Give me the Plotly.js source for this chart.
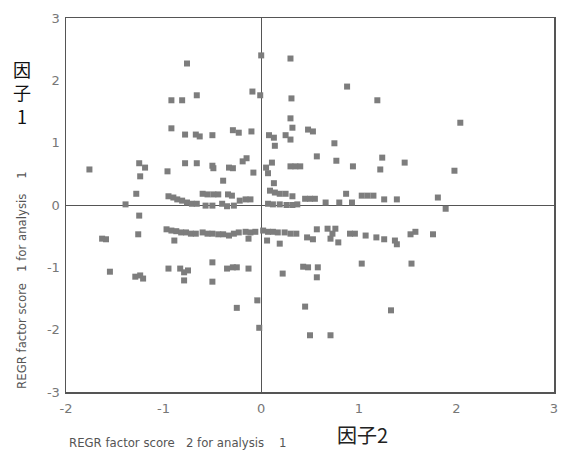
<!DOCTYPE html>
<html>
<head>
<meta charset="utf-8">
<script src="https://cdn.plot.ly/plotly-3.0.1.min.js"></script>
<style>html,body{margin:0;padding:0;background:#fff;}</style>
</head>
<body>
<div id="chart" style="width:561px;height:452px;"></div>
<script>
// REGR factor score 2 (x) and factor score 1 (y)
const factor2 = [
-0.76,-0.92,-0.81,-0.66,0.00,-0.09,-0.01,-0.92,-0.78,-0.67,-0.63,-0.50,-0.29,-0.23,-0.10,0.08,0.13,0.14,
0.30,0.88,0.31,1.19,2.04,0.30,0.32,0.25,0.30,0.48,0.53,0.75,0.57,0.77,0.94,1.24,1.22,1.47,1.98,
0.30,0.35,0.40,0.11,0.05,0.07,0.13,
-1.76,-1.25,-1.19,-1.24,-0.96,-0.78,-0.66,-0.50,-0.49,-0.33,-0.29,-0.39,-0.19,-0.15,-0.08,-1.28,-1.39,-1.25,
-0.95,-0.90,-0.86,-0.81,-0.76,-0.71,-0.66,-0.60,-0.55,-0.49,-0.44,-0.40,-0.34,-0.30,-0.28,-0.22,-0.16,-0.11,-0.57,-0.50,-0.35,
0.09,0.14,0.19,0.25,0.32,0.45,0.50,0.55,0.66,0.80,0.87,0.93,1.03,1.09,1.15,1.26,1.39,1.81,1.89,0.07,0.12,0.19,0.26,0.32,0.37,
-0.97,-0.92,-0.87,-0.82,-0.77,-0.72,-0.67,-0.60,-0.55,-0.50,-0.44,-0.39,-0.33,-0.28,-0.23,-0.16,-0.11,-0.06,-0.89,-0.13,-1.26,-1.63,-1.59,
0.02,0.07,0.12,0.17,0.24,0.30,0.36,0.19,0.06,0.47,0.53,0.57,0.68,0.73,0.76,0.71,0.79,0.91,0.96,1.07,1.18,1.26,1.37,1.39,1.53,1.58,1.76,
-1.55,-1.29,-1.24,-1.21,-0.95,-0.83,-0.79,-0.75,-0.79,-0.50,-0.50,-0.35,-0.29,-0.25,-0.13,-0.25,-0.04,-0.02,
0.22,0.43,0.48,0.58,0.57,1.03,1.54,0.45,1.33,0.50,0.71
];
const factor1 = [
2.27,1.68,1.68,1.76,2.40,1.82,1.76,1.23,1.13,1.13,1.10,1.12,1.20,1.16,1.18,1.12,1.08,0.95,
2.35,1.90,1.71,1.68,1.32,1.39,1.24,1.12,1.05,1.21,1.18,0.99,0.78,0.71,0.62,0.76,0.57,0.68,0.55,
0.62,0.62,0.62,0.68,0.60,0.51,0.35,
0.57,0.67,0.60,0.46,0.54,0.67,0.67,0.63,0.59,0.60,0.59,0.39,0.70,0.75,0.52,0.18,0.01,-0.17,
0.14,0.12,0.09,0.07,0.04,0.02,0.02,0.18,0.17,0.17,0.17,0.02,0.17,0.15,-0.01,0.07,0.09,0.09,-0.01,-0.01,-0.02,
0.23,0.20,0.18,0.18,0.14,0.10,0.10,0.10,0.04,0.04,0.18,0.04,0.15,0.15,0.15,0.09,0.09,0.12,-0.06,0.02,0.01,0.01,0.00,0.00,0.01,
-0.39,-0.41,-0.42,-0.44,-0.44,-0.46,-0.46,-0.44,-0.46,-0.46,-0.47,-0.47,-0.49,-0.46,-0.44,-0.43,-0.44,-0.43,-0.57,-0.54,-0.47,-0.54,-0.55,
-0.41,-0.43,-0.43,-0.44,-0.44,-0.46,-0.46,-0.62,-0.57,-0.52,-0.55,-0.39,-0.38,-0.46,-0.38,-0.54,-0.60,-0.46,-0.46,-0.49,-0.52,-0.55,-0.57,-0.63,-0.47,-0.43,-0.47,
-1.07,-1.15,-1.13,-1.18,-1.02,-1.02,-1.08,-1.05,-1.21,-0.92,-1.23,-1.02,-1.00,-1.00,-1.02,-1.65,-1.53,-1.97,
-1.10,-0.99,-1.00,-1.00,-1.16,-0.94,-0.94,-1.63,-1.69,-2.09,-2.09
];
const xTicks = [-2,-1,0,1,2,3];
const yTicks = [-3,-2,-1,0,1,2,3];
const xTitle = "REGR factor score   2 for analysis    1";
const yTitle = "REGR factor score   1 for analysis    1";
const xLabelJa = "因子2";
const yLabelJa = "因<br>子<br>1";

const trace = {
  x: factor2, y: factor1, type: 'scatter', mode: 'markers',
  marker: {symbol: 'square', size: 6, color: '#7d7d7d'},
  hoverinfo: 'skip'
};
const tickFont = {family: 'DejaVu Sans, sans-serif', size: 13, color: '#777'};
const titleFont = {family: 'Liberation Sans Narrow, DejaVu Sans Condensed, sans-serif', size: 13, color: '#555'};
const annotations = [
  {text: xTitle, xref: 'paper', yref: 'paper', x: 0.230, y: -0.136, xanchor: 'center', yanchor: 'middle', showarrow: false, font: titleFont},
  {text: yTitle, xref: 'paper', yref: 'paper', x: -0.090, y: 0.30, xanchor: 'center', yanchor: 'middle', textangle: -90, showarrow: false, font: titleFont},
  {text: xLabelJa, xref: 'paper', yref: 'paper', x: 0.607, y: -0.157, xanchor: 'center', yanchor: 'bottom', showarrow: false,
   font: {family: 'Noto Sans CJK JP, sans-serif', size: 20, color: '#222'}},
  {text: yLabelJa, xref: 'paper', yref: 'paper', x: -0.090, y: 0.802, xanchor: 'center', yanchor: 'middle', showarrow: false,
   font: {family: 'Noto Sans CJK JP, sans-serif', size: 18, color: '#111'}}
];

const layout = {
  width: 561, height: 452,
  margin: {l: 66, r: 7, t: 18, b: 60},
  paper_bgcolor: '#fff', plot_bgcolor: '#fff',
  showlegend: false,
  xaxis: {range: [-2, 3], tickvals: xTicks, ticktext: xTicks.map(String), showgrid: false,
    zeroline: true, zerolinecolor: '#555', zerolinewidth: 1,
    showline: true, mirror: true, linecolor: '#555', linewidth: 1.5,
    ticks: 'outside', ticklen: 4, tickcolor: 'rgba(0,0,0,0)', tickfont: tickFont},
  yaxis: {range: [-3, 3], tickvals: yTicks, ticktext: yTicks.map(String), showgrid: false,
    zeroline: true, zerolinecolor: '#555', zerolinewidth: 1,
    showline: true, mirror: true, linecolor: '#555', linewidth: 1.5,
    ticks: 'outside', ticklen: 2, tickcolor: 'rgba(0,0,0,0)', tickfont: tickFont},
  annotations: annotations
};
Plotly.newPlot('chart', [trace], layout, {displayModeBar: false, staticPlot: true});
</script>
</body>
</html>
